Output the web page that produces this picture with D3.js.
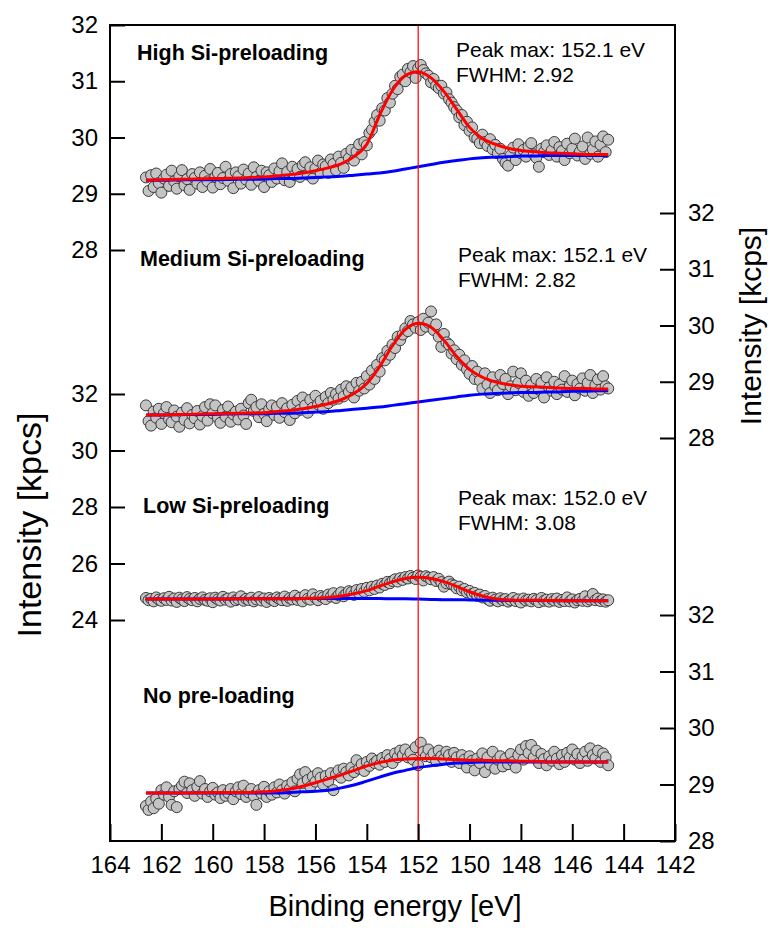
<!DOCTYPE html>
<html>
<head>
<meta charset="utf-8">
<script src="https://cdn.jsdelivr.net/npm/d3@7"></script>
<style>
  body { margin: 0; background: #fff; }
  text { font-family: "Liberation Sans", Arial, sans-serif; fill: #000; }
</style>
</head>
<body>
<svg width="770" height="934"></svg>
<script>
// measured spectra: 162.6 eV down to 144.6 eV, one point every 0.1 eV
var energyStart = 162.6, energyStep = 0.1;

var highPoints = [
  29.29,29.05,29.33,29.12,29.36,29.19,29.02,29.27,29.34,29.14,
  29.41,29.22,29.09,29.31,29.42,29.15,29.26,29.07,29.35,29.28,
  29.18,29.38,29.12,29.32,29.22,29.44,29.11,29.30,29.37,29.17,
  29.28,29.48,29.23,29.35,29.10,29.38,29.31,29.18,29.43,29.25,
  29.36,29.16,29.47,29.30,29.23,29.41,29.12,29.38,29.33,29.21,
  29.45,29.27,29.40,29.54,29.24,29.39,29.21,29.48,29.33,29.44,
  29.30,29.51,29.56,29.34,29.47,29.27,29.45,29.59,29.37,29.52,
  29.49,29.37,29.61,29.53,29.42,29.66,29.55,29.46,29.71,29.63,
  29.78,29.59,29.75,29.88,29.70,29.92,29.86,30.08,30.14,30.28,
  30.40,30.30,30.52,30.48,30.70,30.62,30.78,30.92,30.86,31.08,
  31.12,31.00,31.22,31.16,31.27,31.06,31.23,31.29,31.20,31.14,
  31.10,30.98,31.04,30.92,30.88,30.92,30.78,30.80,30.68,30.62,
  30.54,30.48,30.36,30.40,30.22,30.28,30.12,30.18,30.00,29.98,
  29.90,30.05,29.92,29.85,29.97,29.79,29.87,29.72,29.80,29.62,
  29.55,29.50,29.68,29.82,29.60,29.88,29.72,29.78,29.66,29.84,
  29.90,29.70,29.64,29.48,29.80,29.74,29.86,29.69,29.77,29.92,
  29.66,29.83,29.76,29.60,29.89,29.72,29.80,29.98,29.68,29.75,
  29.84,29.62,30.00,29.71,29.79,29.93,29.66,29.87,30.02,29.74,29.96
];
var mediumPoints = [
  28.58,28.30,28.22,28.47,28.36,28.52,28.25,28.44,28.55,28.33,
  28.28,28.49,28.38,28.20,28.45,28.32,28.53,28.26,28.41,28.35,
  28.48,28.24,28.39,28.55,28.31,28.60,28.44,28.58,28.36,28.27,
  28.50,28.38,28.56,28.29,28.42,28.47,28.33,28.52,28.40,28.25,
  28.62,28.68,28.48,28.55,28.37,28.60,28.43,28.30,28.51,28.58,
  28.41,28.55,28.36,28.62,28.46,28.53,28.32,28.59,28.44,28.66,
  28.50,28.72,28.58,28.45,28.68,28.54,28.75,28.60,28.66,28.52,
  28.73,28.62,28.80,28.68,28.78,28.70,28.86,28.74,28.92,28.82,
  28.90,28.72,28.98,28.84,29.00,28.88,29.10,28.95,29.20,29.05,
  29.30,29.18,29.42,29.38,29.55,29.48,29.66,29.60,29.80,29.74,
  29.84,29.95,29.90,30.08,30.02,29.96,30.06,29.92,30.12,29.98,
  30.05,30.25,29.92,30.02,29.80,29.62,29.85,29.70,29.66,29.50,
  29.56,29.40,29.48,29.30,29.38,29.22,29.14,29.28,29.05,29.18,
  29.02,28.88,29.15,28.95,28.80,29.08,28.92,28.85,29.12,28.96,
  29.05,28.78,28.92,29.18,28.85,28.98,29.15,28.82,29.02,28.75,
  28.94,28.80,29.05,28.86,28.98,28.72,29.08,28.90,28.84,29.00,
  28.78,28.95,28.86,29.10,28.82,28.92,29.02,28.76,28.96,28.88,
  29.06,28.84,28.98,29.12,28.80,28.94,29.04,28.86,29.10,28.92,28.88
];
var lowPoints = [
  24.78,24.70,24.75,24.66,24.80,24.72,24.68,24.77,24.71,24.82,
  24.69,24.76,24.64,24.79,24.73,24.67,24.81,24.74,24.70,24.78,
  24.66,24.75,24.80,24.71,24.68,24.77,24.63,24.79,24.73,24.69,
  24.82,24.72,24.76,24.65,24.80,24.70,24.74,24.84,24.68,24.75,
  24.71,24.79,24.66,24.73,24.81,24.69,24.76,24.64,24.78,24.72,
  24.67,24.80,24.74,24.70,24.83,24.68,24.77,24.73,24.86,24.71,
  24.79,24.66,24.88,24.75,24.72,24.91,24.78,24.70,24.85,24.80,
  24.74,24.90,24.83,24.95,24.78,24.88,24.98,24.84,24.93,25.02,
  24.98,24.89,25.06,24.95,25.10,25.00,25.14,25.05,25.18,25.10,
  25.22,25.15,25.28,25.24,25.35,25.30,25.38,25.44,25.36,25.48,
  25.42,25.52,25.47,25.56,25.50,25.45,25.58,25.53,25.40,25.55,
  25.50,25.44,25.52,25.38,25.46,25.34,25.18,25.30,25.36,25.26,
  25.22,25.12,25.18,25.05,25.10,24.98,25.03,24.92,24.96,24.86,
  24.90,24.80,24.85,24.74,24.68,24.79,24.72,24.66,24.77,24.70,
  24.74,24.65,24.71,24.78,24.67,24.73,24.62,24.76,24.69,24.72,
  24.66,24.75,24.70,24.63,24.78,24.68,24.72,24.65,24.74,24.69,
  24.76,24.64,24.71,24.67,24.80,24.66,24.73,24.62,24.70,24.75,
  24.68,24.84,24.66,24.72,24.92,24.70,24.76,24.67,24.73,24.65,24.70
];
var nonePoints = [
  28.62,28.55,28.70,28.58,28.75,28.66,28.90,28.82,28.95,28.78,
  28.64,28.88,28.60,28.92,28.98,29.05,28.85,29.02,28.90,28.80,
  28.96,29.06,28.84,28.92,28.78,28.88,28.94,28.82,28.86,28.76,
  28.90,28.80,28.85,28.92,28.74,28.88,28.95,28.83,28.98,28.78,
  28.86,28.92,28.80,28.64,28.90,28.84,28.96,28.78,28.88,28.82,
  28.95,28.86,29.00,28.90,28.84,28.98,28.92,29.04,28.88,29.10,
  29.18,29.02,29.22,29.08,28.96,29.14,29.05,29.20,29.12,29.00,
  29.15,29.06,29.20,28.90,29.18,29.25,29.12,29.28,29.22,29.16,
  29.30,29.22,29.43,29.28,29.36,29.24,29.40,29.33,29.46,29.38,
  29.42,29.35,29.47,29.40,29.52,29.45,29.38,29.55,29.48,29.60,
  29.52,29.62,29.48,29.56,29.44,29.66,29.34,29.74,29.58,29.50,
  29.62,29.48,29.55,29.42,29.60,29.50,29.45,29.58,29.52,29.40,
  29.56,29.48,29.38,29.52,29.44,29.30,29.50,29.42,29.25,29.46,
  29.38,29.55,29.22,29.48,29.35,29.58,29.28,29.44,29.50,29.32,
  29.46,29.36,29.54,29.40,29.30,29.52,29.62,29.44,29.68,29.56,
  29.70,29.48,29.60,29.38,29.54,29.45,29.34,29.50,29.42,29.58,
  29.46,29.36,29.52,29.40,29.56,29.48,29.62,29.44,29.54,29.38,
  29.50,29.58,29.42,29.64,29.52,29.46,29.60,29.40,29.55,29.48,29.34
];

// fitted curves (envelope = red, background = blue), read at these energies
var fitEnergies = [162.6,162,161,160,159,158,157.5,157,156.5,156,155.5,155,154.5,154,153.5,153,
  152.5,152,151.5,151,150.5,150,149.5,149,148.5,148,147.5,147,146.5,146,145.5,145,144.6];

var highEnvelope = [29.24,29.25,29.26,29.27,29.28,29.30,29.32,29.34,29.37,29.41,29.46,29.53,29.66,29.88,30.40,30.84,
  31.10,31.17,31.06,30.82,30.50,30.18,29.98,29.88,29.81,29.77,29.75,29.73,29.72,29.71,29.70,29.70,29.70];
var highBackground = [29.24,29.24,29.25,29.25,29.26,29.26,29.27,29.27,29.28,29.29,29.30,29.31,29.33,29.35,29.37,29.40,
  29.44,29.48,29.52,29.56,29.59,29.62,29.64,29.65,29.66,29.67,29.67,29.68,29.68,29.68,29.68,29.68,29.68];

var mediumEnvelope = [28.41,28.41,28.42,28.43,28.44,28.45,28.47,28.49,28.52,28.56,28.61,28.68,28.79,28.97,29.27,29.64,
  29.93,30.04,29.97,29.74,29.45,29.22,29.08,29.00,28.95,28.92,28.91,28.90,28.89,28.88,28.88,28.87,28.87];
var mediumBackground = [28.41,28.41,28.42,28.42,28.43,28.43,28.44,28.44,28.45,28.46,28.47,28.49,28.51,28.53,28.55,28.58,
  28.61,28.64,28.67,28.70,28.73,28.76,28.78,28.79,28.80,28.81,28.81,28.82,28.82,28.83,28.83,28.84,28.84];

var lowEnvelope = [24.74,24.74,24.74,24.74,24.75,24.75,24.75,24.75,24.76,24.77,24.80,24.85,24.93,25.04,25.20,25.35,
  25.47,25.51,25.47,25.36,25.19,25.00,24.85,24.75,24.71,24.70,24.70,24.69,24.69,24.68,24.68,24.68,24.68];
var lowBackground = [24.74,24.74,24.74,24.74,24.75,24.75,24.75,24.75,24.76,24.76,24.76,24.76,24.76,24.76,24.76,24.75,
  24.75,24.74,24.73,24.72,24.72,24.71,24.70,24.70,24.69,24.69,24.69,24.69,24.68,24.68,24.68,24.68,24.68];

var noneEnvelope = [28.85,28.85,28.85,28.86,28.86,28.87,28.89,28.92,28.97,29.03,29.10,29.17,29.25,29.33,29.39,29.43,
  29.45,29.46,29.46,29.45,29.44,29.43,29.43,29.42,29.42,29.41,29.41,29.40,29.40,29.40,29.40,29.40,29.40];
var noneBackground = [28.85,28.85,28.85,28.85,28.85,28.85,28.85,28.86,28.87,28.88,28.90,28.94,28.99,29.06,29.13,29.20,
  29.25,29.30,29.33,29.36,29.38,29.39,29.40,29.40,29.40,29.40,29.40,29.40,29.40,29.40,29.40,29.40,29.40];

// axes
var xTicks = [164,162,160,158,156,154,152,150,148,146,144,142];
var highTicks = [28,29,30,31,32];
var mediumTicks = [28,29,30,31,32];
var lowTicks = [24,26,28,30,32];
var noneTicks = [28,29,30,31,32];
var peakLine = 152;

var panelNames = ["High Si-preloading", "Medium Si-preloading", "Low Si-preloading", "No pre-loading"];
var peakMax = ["152.1", "152.1", "152.0"];
var fwhm = ["2.92", "2.82", "3.08"];

// layout
var svg = d3.select("svg"),
    margin = {top: 25, right: 95, bottom: 93, left: 110},
    width = 770 - margin.left - margin.right,
    height = 934 - margin.top - margin.bottom;

var x = d3.scaleLinear().domain([164, 142]).range([margin.left, margin.left + width]);

var yHigh = d3.scaleLinear().domain([28, 32]).range([250, 25]);
var yMedium = d3.scaleLinear().domain([28, 32]).range([438, 213]);
var yLow = d3.scaleLinear().domain([24, 32]).range([620, 394]);
var yNone = d3.scaleLinear().domain([28, 32]).range([841, 615]);

var panels = [
  {points: highPoints, envelope: highEnvelope, background: highBackground, y: yHigh},
  {points: mediumPoints, envelope: mediumEnvelope, background: mediumBackground, y: yMedium},
  {points: lowPoints, envelope: lowEnvelope, background: lowBackground, y: yLow},
  {points: nonePoints, envelope: noneEnvelope, background: noneBackground, y: yNone}
];

// scatter points
panels.forEach(function(p) {
  svg.append("g").selectAll("circle")
    .data(p.points)
    .enter().append("circle")
      .attr("cx", function(d, i) { return x(energyStart - i * energyStep); })
      .attr("cy", function(d) { return p.y(d); })
      .attr("r", 5.5)
      .attr("fill", "#c4c4c4")
      .attr("stroke", "#3a3a3a")
      .attr("stroke-width", 1);
});

// fit curves
panels.forEach(function(p) {
  var line = d3.line()
    .x(function(d, i) { return x(fitEnergies[i]); })
    .y(function(d) { return p.y(d); })
    .curve(d3.curveMonotoneX);
  svg.append("path").datum(p.background)
    .attr("d", line).attr("fill", "none")
    .attr("stroke", "#0000ff").attr("stroke-width", 3);
  svg.append("path").datum(p.envelope)
    .attr("d", line).attr("fill", "none")
    .attr("stroke", "#ff0000").attr("stroke-width", 3);
});

// vertical marker at peak position
svg.append("line")
  .attr("x1", x(peakLine)).attr("x2", x(peakLine))
  .attr("y1", margin.top).attr("y2", margin.top + height)
  .attr("stroke", "#ff0000").attr("stroke-width", 1.2);

// frame
svg.append("rect")
  .attr("x", margin.left).attr("y", margin.top)
  .attr("width", width).attr("height", height)
  .attr("fill", "none").attr("stroke", "#000").attr("stroke-width", 2);

var fmt = d3.format("d");

function styleAxis(g) {
  g.select(".domain").remove();
  g.selectAll(".tick line").attr("stroke", "#000").attr("stroke-width", 2);
  g.selectAll(".tick text")
    .style("font-family", "'Liberation Sans', Arial, sans-serif")
    .style("font-size", "24px").attr("fill", "#000");
}

svg.append("g")
  .attr("transform", "translate(0," + (margin.top + height) + ")")
  .call(d3.axisBottom(x).tickValues(xTicks).tickFormat(fmt).tickSize(-17).tickPadding(15))
  .call(styleAxis);

svg.append("g").attr("transform", "translate(" + margin.left + ",0)")
  .call(d3.axisLeft(yHigh).tickValues(highTicks).tickFormat(fmt).tickSize(-15).tickPadding(12))
  .call(styleAxis);
svg.append("g").attr("transform", "translate(" + margin.left + ",0)")
  .call(d3.axisLeft(yLow).tickValues(lowTicks).tickFormat(fmt).tickSize(-15).tickPadding(12))
  .call(styleAxis);
svg.append("g").attr("transform", "translate(" + (margin.left + width) + ",0)")
  .call(d3.axisRight(yMedium).tickValues(mediumTicks).tickFormat(fmt).tickSize(-15).tickPadding(13))
  .call(styleAxis);
svg.append("g").attr("transform", "translate(" + (margin.left + width) + ",0)")
  .call(d3.axisRight(yNone).tickValues(noneTicks).tickFormat(fmt).tickSize(-15).tickPadding(13))
  .call(styleAxis);

// axis titles
svg.append("text")
  .attr("transform", "translate(41,525) rotate(-90)")
  .attr("text-anchor", "middle")
  .style("font-size", "34px")
  .text("Intensity [kpcs]");

svg.append("text")
  .attr("transform", "translate(761,326) rotate(-90)")
  .attr("text-anchor", "middle")
  .style("font-size", "30px")
  .text("Intensity [kcps]");

svg.append("text")
  .attr("x", 395).attr("y", 916)
  .attr("text-anchor", "middle")
  .style("font-size", "29px")
  .text("Binding energy [eV]");

// panel labels
var nameSpots = [[137, 60], [140, 266], [143, 513], [143, 703]];
panelNames.forEach(function(n, i) {
  svg.append("text")
    .attr("x", nameSpots[i][0]).attr("y", nameSpots[i][1])
    .style("font-size", "21.5px").style("font-weight", "bold")
    .text(n);
});

var noteSpots = [[456, 57], [458, 262], [458, 505]];
peakMax.forEach(function(p, i) {
  svg.append("text")
    .attr("x", noteSpots[i][0]).attr("y", noteSpots[i][1])
    .style("font-size", "21px")
    .text("Peak max: " + p + " eV");
  svg.append("text")
    .attr("x", noteSpots[i][0]).attr("y", noteSpots[i][1] + 25)
    .style("font-size", "21px")
    .text("FWHM: " + fwhm[i]);
});
</script>
</body>
</html>
